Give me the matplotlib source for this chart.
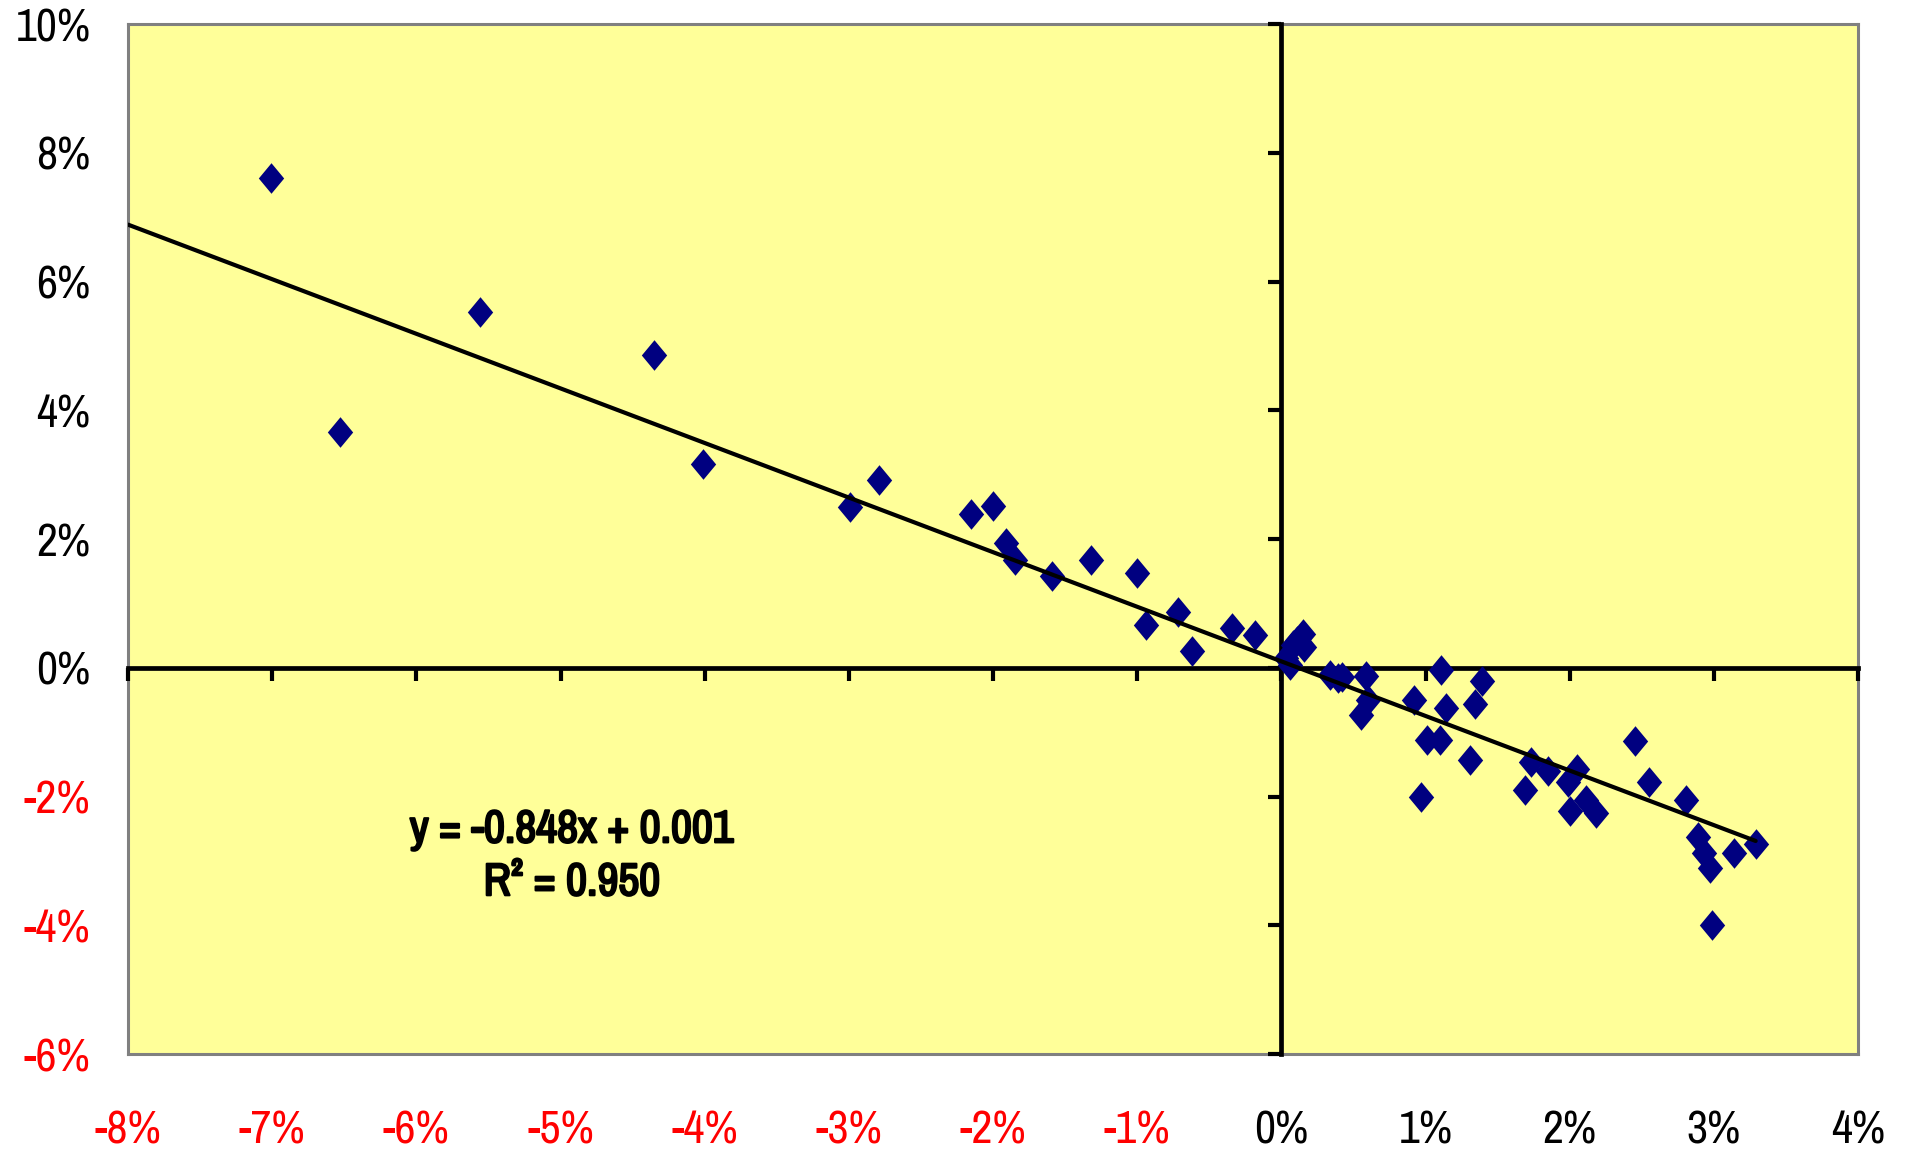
import numpy as np
import matplotlib
matplotlib.use("Agg")
import matplotlib.pyplot as plt
import matplotlib.patheffects as pe
from matplotlib.path import Path

plt.rcParams['font.family'] = ['Liberation Sans Narrow', 'Archivo Narrow', 'DejaVu Sans']
plt.rcParams['axes.unicode_minus'] = False

# returns (fractions)
x_ret = [-0.0701, -0.0653, -0.0556, -0.0435, -0.0401, -0.0299, -0.0279, -0.0215,
         -0.0200, -0.0191, -0.0185, -0.0159, -0.0132, -0.0100, -0.0094, -0.0072,
         -0.0062, -0.0034, -0.0018, 0.0003, 0.0006, 0.0008, 0.0011, 0.0015,
         0.0016, 0.0034, 0.0039, 0.0042, 0.0059, 0.0055, 0.0060, 0.0092,
         0.0101, 0.0110, 0.0111, 0.0114, 0.0134, 0.0139, 0.0131, 0.0097,
         0.0173, 0.0169, 0.0185, 0.0205, 0.0199, 0.0200, 0.0211, 0.0218,
         0.0245, 0.0255, 0.0281, 0.0289, 0.0293, 0.0297, 0.0299, 0.0314, 0.0329]
y_ret = [0.0761, 0.0366, 0.0553, 0.0486, 0.0317, 0.0249, 0.0291, 0.0239,
         0.0252, 0.0194, 0.0168, 0.0142, 0.0168, 0.0148, 0.0067, 0.0087,
         0.0026, 0.0062, 0.0051, 0.0015, 0.0005, 0.0035, 0.0042, 0.0052,
         0.0032, -0.0011, -0.0016, -0.0014, -0.0013, -0.0073, -0.0050, -0.0050,
         -0.0112, -0.0112, -0.0003, -0.0062, -0.0057, -0.0020, -0.0144, -0.0201,
         -0.0146, -0.0190, -0.0161, -0.0157, -0.0178, -0.0223, -0.0205, -0.0226,
         -0.0113, -0.0177, -0.0205, -0.0263, -0.0288, -0.0311, -0.0399, -0.0288, -0.0273]

slope = -0.848
intercept = 0.001
r_squared = 0.950

x_ticks = [-8, -7, -6, -5, -4, -3, -2, -1, 0, 1, 2, 3, 4]
y_ticks = [-6, -4, -2, 0, 2, 4, 6, 8, 10]

x_ret = np.array(x_ret)
y_ret = np.array(y_ret)

fig = plt.figure(figsize=(19.08, 11.55), dpi=100)
rect = [0.0671, 0.0874, 0.9067, 0.8918]

# background axes: yellow plot area, grey frame, tick labels
ax = fig.add_axes(rect)
ax.set_facecolor('#FFFF99')
for s in ax.spines.values():
    s.set_color('#808080')
    s.set_linewidth(2.2)
ax.set_xlim(-0.08, 0.04)
ax.set_ylim(-0.06, 0.10)
ax.set_xticks([v / 100 for v in x_ticks], labels=[f'{v}%' for v in x_ticks])
ax.set_yticks([v / 100 for v in y_ticks], labels=[f'{v}%' for v in y_ticks])
ax.tick_params(axis='x', length=0, pad=40, labelsize=33)
ax.tick_params(axis='y', length=0, pad=27, labelsize=33)
for lab, v in zip(ax.get_xticklabels(), x_ticks):
    lab.set_color('red' if v < 0 else 'black')
for lab, v in zip(ax.get_yticklabels(), y_ticks):
    lab.set_color('red' if v < 0 else 'black')

# overlay axes: crossing zero axes with ticks, data on top
ax2 = fig.add_axes(rect, sharex=ax, sharey=ax)
ax2.patch.set_visible(False)
ax2.spines['top'].set_visible(False)
ax2.spines['right'].set_visible(False)
ax2.spines['left'].set_position(('data', 0))
ax2.spines['bottom'].set_position(('data', 0))
for k in ['left', 'bottom']:
    ax2.spines[k].set_color('black')
    ax2.spines[k].set_linewidth(3.4)
ax2.tick_params(direction='out', length=9.5, width=3.0, color='black',
                labelbottom=False, labelleft=False)

diamond = Path([(0, 1), (0.83, 0), (0, -1), (-0.83, 0), (0, 1)],
               [Path.MOVETO, Path.LINETO, Path.LINETO, Path.LINETO, Path.CLOSEPOLY])
ax2.plot(x_ret, y_ret, linestyle='none', marker=diamond, markersize=22,
         color='#000080', markeredgewidth=0, zorder=3)

xs = np.array([-0.08, x_ret.max()])
ax2.plot(xs, slope * xs + intercept, color='black', linewidth=3.0,
         solid_capstyle='round', zorder=4)

# the narrow face has no bold weight, so thicken it with a stroke
eq = ax2.text(-0.0492, -0.0292, f'y = {slope:.3f}x + {intercept:.3f}\nR² = {r_squared:.3f}',
              ha='center', va='center', fontsize=33, linespacing=1.32)
eq.set_path_effects([pe.withStroke(linewidth=1.6, foreground='black')])

fig.savefig('out.png', dpi=100)
